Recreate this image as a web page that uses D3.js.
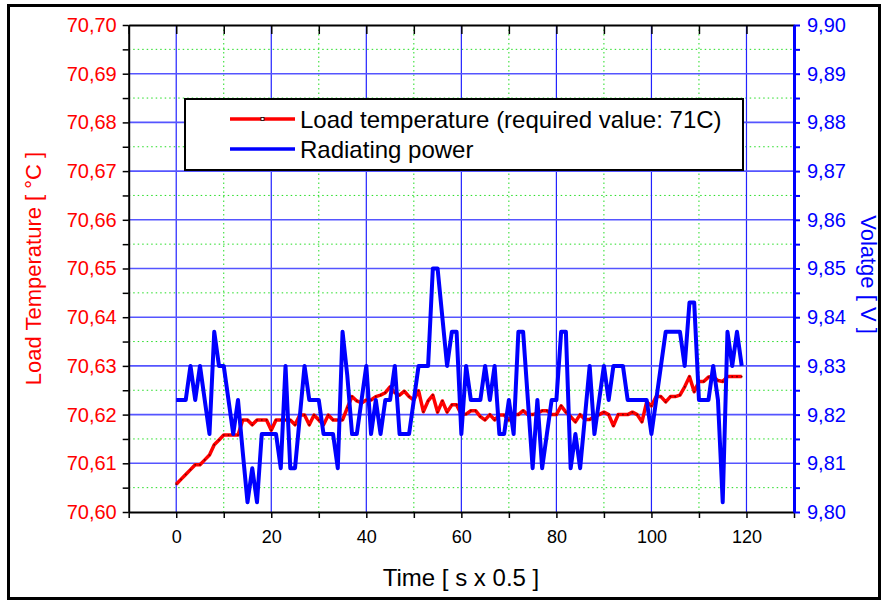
<!DOCTYPE html>
<html>
<head>
<meta charset="utf-8">
<script src="https://cdn.jsdelivr.net/npm/d3@7"></script>
<style>
  body { margin: 0; background: #fff; }
  text { font-family: Arial, 'Liberation Sans', sans-serif; }
</style>
</head>
<body>
<svg id="chart" width="885" height="603"></svg>
<script>
// load temperature, one reading per half second
const temperature = [
  70.6057, 70.6067, 70.6077, 70.6087, 70.6097, 70.6097, 70.6107, 70.6117, 70.6138, 70.6148,
  70.6158, 70.6158, 70.6158, 70.6158, 70.6189, 70.6189, 70.6179, 70.6189, 70.6189, 70.6189,
  70.6168, 70.6189, 70.6189, 70.6189, 70.6189, 70.6179, 70.6199, 70.6199, 70.6179, 70.6199,
  70.6189, 70.6179, 70.6199, 70.6189, 70.6189, 70.6189, 70.6214, 70.6237, 70.6228, 70.6224,
  70.6230, 70.6230, 70.6237, 70.6240, 70.6245, 70.6257, 70.6245, 70.6240, 70.6248, 70.6237,
  70.6230, 70.6249, 70.6206, 70.6228, 70.6240, 70.6205, 70.6228, 70.6205, 70.6220, 70.6220,
  70.6200, 70.6201, 70.6208, 70.6208, 70.6196, 70.6189, 70.6200, 70.6189, 70.6199, 70.6199,
  70.6189, 70.6200, 70.6200, 70.6208, 70.6200, 70.6200, 70.6203, 70.6208, 70.6208, 70.6200,
  70.6200, 70.6218, 70.6205, 70.6196, 70.6185, 70.6200, 70.6190, 70.6190, 70.6196, 70.6200,
  70.6205, 70.6200, 70.6177, 70.6200, 70.6200, 70.6200, 70.6205, 70.6200, 70.6185, 70.6226,
  70.6218, 70.6237, 70.6237, 70.6226, 70.6237, 70.6237, 70.6240, 70.6257, 70.6278, 70.6247,
  70.6268, 70.6268, 70.6277, 70.6278, 70.6270, 70.6268, 70.6278, 70.6278, 70.6278, 70.6278
]

// radiating power (voltage)
const voltage = [
  9.823, 9.823, 9.823, 9.830, 9.823, 9.830, 9.823, 9.816, 9.837, 9.830,
  9.830, 9.823, 9.816, 9.823, 9.8123, 9.802, 9.809, 9.802, 9.816, 9.816,
  9.816, 9.816, 9.809, 9.830, 9.809, 9.809, 9.8195, 9.830, 9.823, 9.823,
  9.823, 9.816, 9.816, 9.816, 9.809, 9.837, 9.828, 9.816, 9.816, 9.823,
  9.830, 9.816, 9.823, 9.816, 9.823, 9.823, 9.830, 9.816, 9.816, 9.816,
  9.823, 9.830, 9.830, 9.830, 9.850, 9.850, 9.840, 9.830, 9.837, 9.837,
  9.816, 9.830, 9.823, 9.823, 9.823, 9.830, 9.823, 9.830, 9.816, 9.816,
  9.823, 9.816, 9.837, 9.837, 9.823, 9.809, 9.823, 9.809, 9.816, 9.823,
  9.823, 9.837, 9.837, 9.809, 9.816, 9.809, 9.8195, 9.830, 9.816, 9.823,
  9.830, 9.823, 9.830, 9.830, 9.830, 9.823, 9.823, 9.823, 9.823, 9.823,
  9.816, 9.823, 9.830, 9.837, 9.837, 9.837, 9.837, 9.830, 9.843, 9.843,
  9.823, 9.823, 9.823, 9.830, 9.823, 9.802, 9.837, 9.830, 9.837, 9.830
]

const time = d3.range(temperature.length)

const xTicks = [-10, 0, 10, 20, 30, 40, 50, 60, 70, 80, 90, 100, 110, 120, 130]
const xLabels = [0, 20, 40, 60, 80, 100, 120]
const tempTicks = [70.60, 70.61, 70.62, 70.63, 70.64, 70.65, 70.66, 70.67, 70.68, 70.69, 70.70]
const voltTicks = [9.80, 9.81, 9.82, 9.83, 9.84, 9.85, 9.86, 9.87, 9.88, 9.89, 9.90]

const legendItems = [
  { label: 'Load temperature (required value: 71C)', color: '#ff0000', marker: true },
  { label: 'Radiating power', color: '#0000ff', marker: false }
]

const plot = { left: 128.7, right: 794, top: 25, bottom: 512 }

const x = d3.scaleLinear().domain([-10, 130]).range([plot.left, plot.right])
const yT = d3.scaleLinear().domain([70.60, 70.70]).range([plot.bottom, plot.top])
const yV = d3.scaleLinear().domain([9.80, 9.90]).range([plot.bottom, plot.top])

const comma = f => v => f(v).replace('.', ',')
const fmt = comma(d3.format('.2f'))

const svg = d3.select('#chart')

// outer frame
svg.append('rect')
  .attr('x', 8.5).attr('y', 5.5)
  .attr('width', 871).attr('height', 593)
  .style('fill', 'none')
  .style('stroke', '#000')
  .style('stroke-width', 3)

// grid: minor (green dotted) then major (blue)
const midTemps = d3.pairs(tempTicks).map(p => (p[0] + p[1]) / 2)
const grid = svg.append('g').classed('grid', true)

grid.selectAll('.vminor')
  .data(xTicks.filter(d => d % 20 !== 0 && d > -10 && d < 130))
  .enter().append('line')
  .attr('x1', d => x(d)).attr('x2', d => x(d))
  .attr('y1', plot.top).attr('y2', plot.bottom)
  .style('stroke', '#22dd22')
  .style('stroke-width', 1)
  .style('stroke-dasharray', '1.5,3')

grid.selectAll('.hminor')
  .data(midTemps)
  .enter().append('line')
  .attr('x1', plot.left).attr('x2', plot.right)
  .attr('y1', d => yT(d)).attr('y2', d => yT(d))
  .style('stroke', '#22dd22')
  .style('stroke-width', 1)
  .style('stroke-dasharray', '1.5,3')

grid.selectAll('.vmajor')
  .data(xLabels)
  .enter().append('line')
  .attr('x1', d => x(d)).attr('x2', d => x(d))
  .attr('y1', plot.top).attr('y2', plot.bottom)
  .style('stroke', '#2222ff')
  .style('stroke-width', 1.2)

grid.selectAll('.hmajor')
  .data(tempTicks.slice(1, -1))
  .enter().append('line')
  .attr('x1', plot.left).attr('x2', plot.right)
  .attr('y1', d => yT(d)).attr('y2', d => yT(d))
  .style('stroke', '#5555ff')
  .style('stroke-width', 1.6)

// axes
const bottomAxis = svg.append('g')
  .attr('transform', `translate(0,${plot.bottom})`)
  .call(d3.axisBottom(x).tickValues(xTicks).tickSize(6).tickSizeOuter(0).tickFormat(d => xLabels.includes(d) ? d : ''))
bottomAxis.select('.domain').style('stroke-width', 2)
bottomAxis.selectAll('.tick line').style('stroke-width', 1.5)
bottomAxis.selectAll('text')
  .attr('y', 18)
  .style('font-size', '18px')
  .style('fill', '#000')

const topAxis = svg.append('g')
  .attr('transform', `translate(0,${plot.top})`)
  .call(d3.axisBottom(x).tickValues(xTicks).tickSize(9).tickSizeOuter(0).tickFormat(''))
topAxis.select('.domain').style('stroke-width', 2)
topAxis.selectAll('.tick line').style('stroke-width', 1.5)

const allTemps = tempTicks.concat(midTemps)
const leftAxis = svg.append('g')
  .attr('transform', `translate(${plot.left},0)`)
  .call(d3.axisLeft(yT).tickValues(allTemps).tickSize(6).tickSizeOuter(0)
    .tickFormat(d => tempTicks.includes(d) ? fmt(d) : ''))
leftAxis.select('.domain').style('stroke-width', 2)
leftAxis.selectAll('.tick line').style('stroke-width', 1.5)
leftAxis.selectAll('text')
  .attr('x', -12)
  .style('font-size', '20px')
  .style('fill', '#ff0000')

const midVolts = d3.pairs(voltTicks).map(p => (p[0] + p[1]) / 2)
const rightAxis = svg.append('g')
  .attr('transform', `translate(${plot.right},0)`)
  .call(d3.axisRight(yV).tickValues(voltTicks.concat(midVolts)).tickSize(6).tickSizeOuter(0)
    .tickFormat(d => voltTicks.includes(d) ? fmt(d) : ''))
rightAxis.select('.domain').style('stroke', '#0000ff').style('stroke-width', 3)
rightAxis.selectAll('.tick line').style('stroke', '#0000ff').style('stroke-width', 2)
rightAxis.selectAll('text')
  .attr('x', 13)
  .style('font-size', '20px')
  .style('fill', '#0000ff')

// axis titles
svg.append('text')
  .attr('transform', `translate(41,${(plot.top + plot.bottom) / 2}) rotate(-90)`)
  .attr('text-anchor', 'middle')
  .style('font-size', '22px')
  .style('fill', '#ff0000')
  .text('Load Temperature [ °C ]')

svg.append('text')
  .attr('transform', `translate(861,${(plot.top + plot.bottom) / 2 + 6}) rotate(90)`)
  .attr('text-anchor', 'middle')
  .style('font-size', '22px')
  .style('fill', '#0000ff')
  .text('Volatge [ V ]')

svg.append('text')
  .attr('x', 461).attr('y', 586)
  .attr('text-anchor', 'middle')
  .style('font-size', '24px')
  .style('fill', '#000')
  .text('Time [ s x 0.5 ]')

// series
const tempLine = d3.line().x((d, i) => x(time[i])).y(d => yT(d))
const voltLine = d3.line().x((d, i) => x(time[i])).y(d => yV(d))

svg.append('path')
  .datum(temperature)
  .attr('d', tempLine)
  .style('fill', 'none')
  .style('stroke', '#ff0000')
  .style('stroke-width', 3.5)
  .style('stroke-linejoin', 'round')

svg.selectAll('.tdot')
  .data(temperature)
  .enter().append('rect')
  .attr('x', (d, i) => x(time[i]) - 0.8)
  .attr('y', d => yT(d) - 0.8)
  .attr('width', 1.6).attr('height', 1.6)
  .style('fill', '#700')

svg.append('path')
  .datum(voltage)
  .attr('d', voltLine)
  .style('fill', 'none')
  .style('stroke', '#0000ff')
  .style('stroke-width', 4)
  .style('stroke-linejoin', 'round')

// legend
const legend = svg.append('g').attr('transform', 'translate(185,99)')
legend.append('rect')
  .attr('width', 558).attr('height', 71)
  .style('fill', '#fff')
  .style('stroke', '#000')
  .style('stroke-width', 2)

const items = legend.selectAll('.item')
  .data(legendItems)
  .enter().append('g')
  .attr('transform', (d, i) => `translate(0,${20 + i * 30})`)

items.append('line')
  .attr('x1', 45).attr('x2', 110)
  .style('stroke', d => d.color)
  .style('stroke-width', 3.5)

items.filter(d => d.marker).append('rect')
  .attr('x', 76).attr('y', -1.5)
  .attr('width', 3).attr('height', 3)
  .style('fill', '#fff')
  .style('stroke', '#000')
  .style('stroke-width', 0.8)

items.append('text')
  .attr('x', 115).attr('y', 8.5)
  .style('font-size', '24px')
  .style('fill', '#000')
  .text(d => d.label)
</script>
</body>
</html>
